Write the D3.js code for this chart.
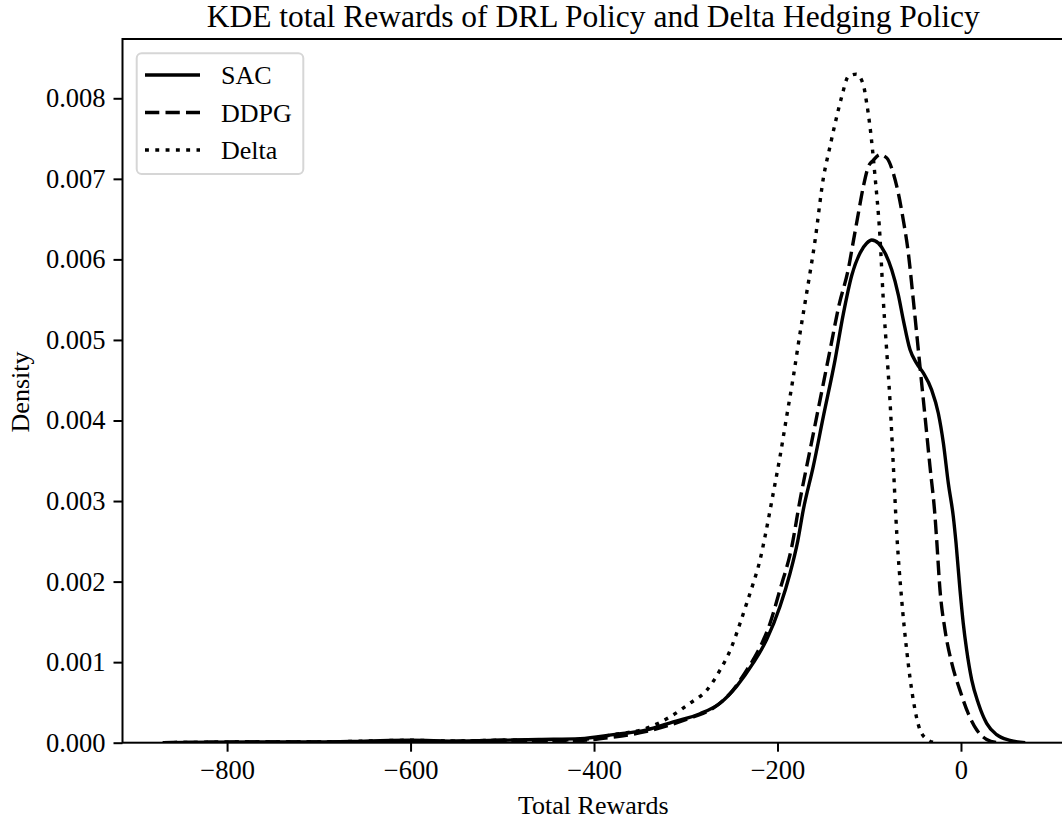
<!DOCTYPE html>
<html>
<head>
<meta charset="utf-8">
<script src="https://cdn.jsdelivr.net/npm/d3@7"></script>
<style>
    body { margin: 0; background: #fff; }
    text { font-family: 'Liberation Serif', 'Times New Roman', serif; fill: #000; }
</style>
</head>
<body>
<svg id="kde" width="1062" height="820"></svg>
<script>
// [reward, density] pairs
let sacPoints = [
    [-870, 0], [-820, 0.000005], [-760, 0.00001], [-700, 0.00001], [-650, 0.00002], [-600, 0.00003],
    [-550, 0.00002], [-500, 0.00003], [-460, 0.00004], [-415, 0.00005], [-379, 0.0001],
    [-342.6, 0.00016], [-313.6, 0.00026], [-284.5, 0.00036], [-262.7, 0.00049], [-244.6, 0.0007],
    [-226.4, 0.00099], [-211.8, 0.00128], [-197.3, 0.00169], [-186.4, 0.0021], [-178, 0.0025],
    [-171.9, 0.00289], [-161, 0.00343], [-150, 0.00405], [-137.3, 0.00475], [-128.3, 0.00532],
    [-119.1, 0.0058], [-110, 0.00608], [-102.8, 0.0062], [-97.3, 0.00624], [-90, 0.0062],
    [-82.8, 0.00608], [-75.5, 0.00587], [-68.3, 0.00556], [-62.9, 0.00525], [-55.6, 0.00488],
    [-48.3, 0.00471], [-41.1, 0.00459], [-32, 0.00438], [-24.7, 0.00409], [-19.2, 0.00372],
    [-13.8, 0.00322], [-8.4, 0.00281], [-5.4, 0.00248], [-1.1, 0.0019], [2.5, 0.00148],
    [6.2, 0.00115], [11.7, 0.00078], [18.9, 0.00049], [28, 0.00024], [38.9, 0.0001],
    [53.4, 0.00003], [70, 0]
]
let ddpgPoints = [
    [-870, 0], [-820, 0.000005], [-760, 0.00001], [-700, 0.00001], [-650, 0.00001], [-600, 0.00002],
    [-550, 0.00002], [-500, 0.00003], [-460, 0.00003], [-415, 0.00003], [-379, 0.00007],
    [-342.6, 0.00014], [-317.2, 0.00022], [-291.8, 0.00032], [-270, 0.00043], [-251.8, 0.00061],
    [-233.6, 0.0009], [-217.2, 0.00123], [-208.2, 0.00148], [-197.3, 0.0019], [-184.5, 0.00243],
    [-175.5, 0.00301], [-164.6, 0.00363], [-153.7, 0.00425], [-142.8, 0.00487], [-133, 0.00543],
    [-122.8, 0.00588], [-117.4, 0.00622], [-111.9, 0.00657], [-106.5, 0.0069], [-101, 0.00715],
    [-95.6, 0.00723], [-88.3, 0.0073], [-81, 0.00726], [-73.8, 0.00707], [-68.3, 0.00682],
    [-62.9, 0.00649], [-57.4, 0.00608], [-52, 0.0055], [-44.7, 0.00467], [-39.2, 0.00405],
    [-33.8, 0.00343], [-28.3, 0.00281], [-26.5, 0.00252], [-22.9, 0.0019], [-17.4, 0.0014],
    [-10.1, 0.00099], [-1.1, 0.00065], [8, 0.00036], [17.1, 0.00016], [28, 0.00004], [40, 0]
]
let deltaPoints = [
    [-870, 0], [-820, 0.000005], [-760, 0.00001], [-700, 0.00001], [-650, 0.00002], [-600, 0.00003],
    [-550, 0.00002], [-500, 0.00003], [-460, 0.00003], [-415, 0.00004], [-379, 0.0001],
    [-342.6, 0.00018], [-317.2, 0.00032], [-295.4, 0.00049], [-277.3, 0.00065], [-262.7, 0.0009],
    [-250, 0.00119], [-240.9, 0.00148], [-233.6, 0.00173], [-226.4, 0.00198], [-219, 0.00227],
    [-213.6, 0.00256], [-204.6, 0.0031], [-197.3, 0.00355], [-190, 0.00405], [-182.8, 0.00454],
    [-175.5, 0.00508], [-170, 0.00546], [-159, 0.00624], [-150, 0.00701], [-142.8, 0.0074],
    [-135.5, 0.00777], [-130, 0.00802], [-122.8, 0.00827], [-114, 0.0083], [-106.5, 0.00817],
    [-102.8, 0.00794], [-99.2, 0.00765], [-93.7, 0.00703], [-88.3, 0.00628], [-84.7, 0.0055],
    [-81, 0.00487], [-77.4, 0.00425], [-73.7, 0.00343], [-70, 0.0026], [-64.6, 0.00177],
    [-59.2, 0.00115], [-52, 0.00053], [-44.7, 0.00016], [-35.6, 0.00003], [-28, 0]
]

let seriesNames = ['SAC', 'DDPG', 'Delta']
let xTicks = [-800, -600, -400, -200, 0]
let yTicks = [0, 0.001, 0.002, 0.003, 0.004, 0.005, 0.006, 0.007, 0.008]
let titleText = 'KDE total Rewards of DRL Policy and Delta Hedging Policy'
let xLabel = 'Total Rewards'
let yLabel = 'Density'

function main() {
    let svg = d3.select('#kde'),
        left = 122.5, right = 1064, top = 39, bottom = 742.7

    let series = [
        {id: seriesNames[0], values: sacPoints, dash: null},
        {id: seriesNames[1], values: ddpgPoints, dash: '14.3,6.2'},
        {id: seriesNames[2], values: deltaPoints, dash: '3.9,6.4'}
    ]

    let x = d3.scaleLinear().domain([-914, 112.3]).range([left, right]),
        y = d3.scaleLinear().domain([0, 0.008736]).range([bottom, top])

    let line = d3.line()
        .curve(d3.curveMonotoneX)
        .x(d => x(d[0]))
        .y(d => y(d[1]))

    svg.append('defs').append('clipPath').attr('id', 'plot-clip')
        .append('rect')
        .attr('x', left).attr('y', top)
        .attr('width', right - left).attr('height', bottom - top)

    svg.append('g')
        .attr('clip-path', 'url(#plot-clip)')
        .selectAll('.kde')
        .data(series)
        .enter().append('path')
        .attr('class', 'kde')
        .attr('d', d => line(d.values))
        .attr('fill', 'none')
        .attr('stroke', '#000')
        .attr('stroke-width', 3.4)
        .attr('stroke-dasharray', d => d.dash)

    // axes
    let fmtX = d => d < 0 ? '\u2212' + Math.abs(d) : '' + d
    let xAxis = svg.append('g')
        .attr('transform', 'translate(0,' + bottom + ')')
        .call(d3.axisBottom(x).tickValues(xTicks).tickFormat(fmtX).tickSize(9).tickPadding(8).tickSizeOuter(0))
    let yAxis = svg.append('g')
        .attr('transform', 'translate(' + left + ',0)')
        .call(d3.axisLeft(y).tickValues(yTicks).tickFormat(d3.format('.3f')).tickSize(9).tickPadding(8).tickSizeOuter(0))

    ;[xAxis, yAxis].forEach(a => {
        a.select('.domain').remove()
        a.selectAll('.tick line').attr('stroke', '#000').attr('stroke-width', 2)
        a.selectAll('.tick text')
            .style('font-family', "'Liberation Serif', serif")
            .style('font-size', '26.5px')
            .attr('fill', '#000')
    })

    // spines
    svg.append('rect')
        .attr('x', left).attr('y', top)
        .attr('width', right - left).attr('height', bottom - top)
        .attr('fill', 'none')
        .attr('stroke', '#000')
        .attr('stroke-width', 2)

    svg.append('text')
        .attr('x', (left + right) / 2)
        .attr('y', 27)
        .attr('text-anchor', 'middle')
        .style('font-size', '31.5px')
        .text(titleText)

    svg.append('text')
        .attr('x', (left + right) / 2)
        .attr('y', 814)
        .attr('text-anchor', 'middle')
        .style('font-size', '26px')
        .text(xLabel)

    svg.append('text')
        .attr('text-anchor', 'middle')
        .attr('transform', 'translate(29,392) rotate(-90)')
        .style('font-size', '26px')
        .text(yLabel)

    // legend
    let legend = svg.append('g').attr('class', 'legend')
    legend.append('rect')
        .attr('x', 136.7).attr('y', 53.3)
        .attr('width', 166.6).attr('height', 120.7)
        .attr('rx', 5)
        .attr('fill', 'rgba(255,255,255,0.8)')
        .attr('stroke', '#d6d6d6')
        .attr('stroke-width', 2)

    let rows = legend.selectAll('.row')
        .data(series)
        .enter().append('g')
        .attr('class', 'row')
        .attr('transform', (d, i) => 'translate(0,' + (75 + i * 37.5) + ')')

    rows.append('line')
        .attr('x1', 145).attr('x2', 200)
        .attr('stroke', '#000')
        .attr('stroke-width', 3.4)
        .attr('stroke-dasharray', d => d.dash)

    rows.append('text')
        .attr('x', 221)
        .attr('dy', '0.35em')
        .style('font-size', '26px')
        .text(d => d.id)
}

main()
</script>
</body>
</html>
